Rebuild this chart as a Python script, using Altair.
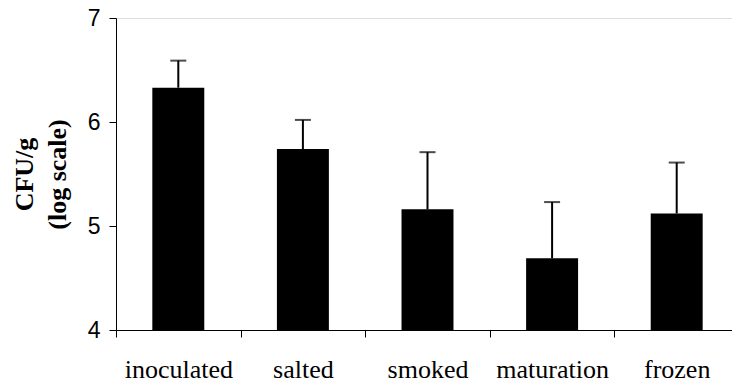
import altair as alt
import pandas as pd

# Log CFU/g at each processing stage, with the upper end of the error bar
stages = ["inoculated", "salted", "smoked", "maturation", "frozen"]
log_cfu = [6.33, 5.74, 5.16, 4.69, 5.12]
log_cfu_upper = [6.59, 6.02, 5.71, 5.23, 5.61]
y_ticks = [4, 5, 6, 7]

df = pd.DataFrame({"stage": stages, "cfu": log_cfu, "upper": log_cfu_upper})

x_enc = alt.X(
    "stage:N",
    sort=stages,
    title=None,
    scale=alt.Scale(range=[0, 623], paddingInner=0, paddingOuter=0),
    axis=alt.Axis(
        tickBand="extent",
        labelAngle=0,
        labelFont="Liberation Serif",
        labelFontSize=26,
        labelColor="black",
        labelPadding=19,
        tickSize=7,
        tickColor="black",
        domainColor="black",
        grid=False,
    ),
)

y_scale = alt.Scale(domain=[4, 7], zero=False, nice=False)
y_axis = alt.Axis(
    values=y_ticks,
    format="d",
    title=["CFU/g", "(log scale)"],
    titleFont="Liberation Serif",
    titleFontSize=26,
    titleFontWeight="bold",
    titleColor="black",
    titleAngle=270,
    titleAlign="center",
    titleBaseline="alphabetic",
    titleLineHeight=33,
    titleX=-84,
    titleY=156,
    labelFont="Liberation Sans",
    labelFontSize=23,
    labelColor="black",
    labelPadding=9,
    tickSize=7,
    tickColor="black",
    domainColor="black",
    grid=False,
)

base = alt.Chart(df)

bars = base.mark_bar(color="black", width=alt.RelativeBandSize(0.417)).encode(
    x=x_enc,
    y=alt.Y("cfu:Q", scale=y_scale, axis=y_axis),
    y2=alt.datum(4),
)

err_line = base.mark_rule(color="black", strokeWidth=2).encode(
    x=alt.X("stage:N", sort=stages),
    y="cfu:Q",
    y2="upper:Q",
)

err_cap = base.mark_tick(color="black", orient="horizontal", size=16, thickness=2).encode(
    x=alt.X("stage:N", sort=stages),
    y="upper:Q",
)

chart = (
    alt.layer(bars, err_line, err_cap)
    .properties(
        width=616,
        height=312,
        autosize=alt.AutoSizeParams(type="none"),
        padding={"left": 116, "top": 18, "right": 0, "bottom": 55},
    )
    .configure_view(stroke=None)
    .configure(background="white")
)

chart.save("out.html", embed_options={"renderer": "svg", "actions": False})
